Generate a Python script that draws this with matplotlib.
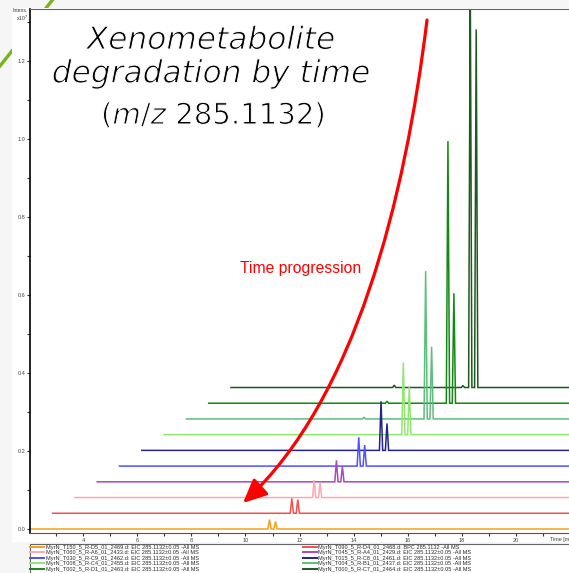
import matplotlib
matplotlib.use("Agg")
import matplotlib.pyplot as plt
import matplotlib.patheffects as pe
from matplotlib.lines import Line2D
from matplotlib.patches import Rectangle, FancyArrowPatch, ArrowStyle
from matplotlib.path import Path
from matplotlib.ticker import MultipleLocator, FormatStrFormatter

W, H = 569, 573

# sample names, bottom trace first
samples = [
    "MyrN_T150_5_R-D5_01_2469.d: EIC 285.1132\u00b10.05 -All MS",
    "MyrN_T090_5_R-D4_01_2468.d: BPC 285.1132 -All MS",
    "MyrN_T060_5_R-A6_01_2433.d: EIC 285.1132\u00b10.05 -All MS",
    "MyrN_T045_5_R-A4_01_2429.d: EIC 285.1132\u00b10.05 -All MS",
    "MyrN_T030_5_R-C9_01_2462.d: EIC 285.1132\u00b10.05 -All MS",
    "MyrN_T015_5_R-C8_01_2461.d: EIC 285.1132\u00b10.05 -All MS",
    "MyrN_T008_5_R-C4_01_2455.d: EIC 285.1132\u00b10.05 -All MS",
    "MyrN_T004_5_R-B1_01_2437.d: EIC 285.1132\u00b10.05 -All MS",
    "MyrN_T002_5_R-D1_01_2463.d: EIC 285.1132\u00b10.05 -All MS",
    "MyrN_T000_5_R-C7_01_2464.d: EIC 285.1132\u00b10.05 -All MS",
]
colors = ["#f5a020", "#f25050", "#ffa6b4", "#a848b8", "#5050ff",
          "#24248c", "#8ee870", "#5cbf7a", "#128a12", "#1d5a1d"]

# two isomer peaks (retention time, min) and heights (x10^7)
peak_rt = [10.89, 11.11]
peak1_h = [0.024, 0.038, 0.045, 0.055, 0.074, 0.126, 0.185, 0.379, 0.672, 1.05]
peak2_h = [0.019, 0.035, 0.038, 0.039, 0.054, 0.069, 0.123, 0.185, 0.282, 0.918]
# small extra bumps: trace index -> [(rt, height)]
minor_peaks = {7: [(8.62, 0.004)], 8: [(8.64, 0.005)], 9: [(8.08, 0.006), (10.62, 0.005)]}

t_start, t_end = 2.05, 25.0
peak_w = 0.06
x_shift = 0.824   # stacking offset in time per trace
y_shift = 0.0403  # stacking offset in intensity per trace

xticks = [4, 6, 8, 10, 12, 14, 16, 18, 20]


def fx(px):
    return px / W


def fy(py):
    return 1 - py / H


fig = plt.figure(figsize=(W / 100, H / 100), dpi=100)
fig.patch.set_facecolor("#f6f6f6")

# slide decoration + white chart area
fig.add_artist(Line2D([fx(0), fx(54)], [fy(66), fy(-2)], color="#78b41e", lw=2.4,
                      transform=fig.transFigure, zorder=-3))
fig.add_artist(Rectangle((fx(12), fy(542)), fx(569 - 12), (542 - 8) / H, facecolor="white",
                         edgecolor="none", transform=fig.transFigure, zorder=-2))
# legend box running off the right edge
fig.add_artist(Rectangle((fx(30), fy(600)), fx(600 - 30), (600 - 544) / H,
                         facecolor="white", edgecolor="#666666", lw=0.8,
                         transform=fig.transFigure, zorder=-1))

ax = fig.add_axes([fx(30), fy(533), fx(600 - 30), (533 - 9) / H])
ax.set_facecolor("white")

for i in range(len(samples) - 1, -1, -1):
    pts = [(t_start, 0.0), (t_end, 0.0)]
    for rt, h in zip(peak_rt, [peak1_h[i], peak2_h[i]]):
        pts += [(rt - peak_w, 0.0), (rt, h), (rt + peak_w, 0.0)]
    for rt, h in minor_peaks.get(i, []):
        pts += [(rt - peak_w, 0.0), (rt, h), (rt + peak_w, 0.0)]
    pts.sort()
    xs = [p[0] + i * x_shift for p in pts]
    ys = [p[1] + i * y_shift for p in pts]
    ax.plot(xs, ys, color=colors[i], lw=1.1, solid_joinstyle="miter")

ax.set_xlim(2.04, 23.1)
ax.set_ylim(-0.0103, 1.333)
ax.set_xticks(xticks)
ax.xaxis.set_minor_locator(MultipleLocator(1))
ax.yaxis.set_major_locator(MultipleLocator(0.2))
ax.yaxis.set_minor_locator(MultipleLocator(0.1))
ax.yaxis.set_major_formatter(FormatStrFormatter("%.1f"))
ax.tick_params(which="both", direction="out", length=2, width=0.8, color="#333333",
               labelsize=4, labelcolor="#444444", pad=1.5)
for lab in ax.get_xticklabels() + ax.get_yticklabels():
    lab.set_family("Liberation Sans")
ax.spines["left"].set_color("black")
ax.spines["left"].set_linewidth(1.2)
ax.spines["bottom"].set_color("#555555")
ax.spines["top"].set_color("#666666")
ax.spines["right"].set_visible(False)

fig.text(fx(550), fy(540), "Time [min]", fontsize=4, color="#444444",
         family="Liberation Sans", va="center", ha="left")
fig.text(fx(28), fy(11), "Intens.", fontsize=3.6, color="#333333",
         family="Liberation Sans", ha="right", va="center")
fig.text(fx(28), fy(18), "x10$^7$", fontsize=3.6, color="#333333",
         family="Liberation Sans", ha="right", va="center")

# legend entries filled column-wise
order = [0, 2, 4, 6, 8, 1, 3, 5, 7, 9]
handles = [Line2D([], [], color=colors[k], lw=1.4) for k in order]
leg = ax.legend(handles, [samples[k] for k in order], ncol=2, loc="upper left",
                bbox_to_anchor=(fx(29), fy(543.5)), bbox_transform=fig.transFigure,
                prop={"family": "Liberation Sans", "size": 4.1}, frameon=False,
                borderpad=0.25, labelspacing=0.08, handlelength=2.4, handletextpad=0.25,
                columnspacing=18.3, borderaxespad=0)
for t in leg.get_texts():
    t.set_color("#2a2a2a")

# title (white outline thins the glyphs a little)
thin = [pe.Stroke(linewidth=0.7, foreground="white")]
fig.text(fx(211), fy(26), "Xenometabolite\ndegradation by time", fontsize=22.5,
         family="DejaVu Sans", style="italic", ha="center", va="top",
         linespacing=1.2, color="#000000", path_effects=thin)
fig.text(fx(213), fy(101), "($\\mathit{m/z}$ 285.1132)", fontsize=21,
         family="DejaVu Sans", ha="center", va="top", color="#000000",
         path_effects=thin)

# red arrow
arrow_px = [(427, 20), (405, 200), (355, 400), (243, 503)]
arrow_path = Path([(fx(x), fy(y)) for x, y in arrow_px],
                  [Path.MOVETO, Path.CURVE4, Path.CURVE4, Path.CURVE4])
fig.add_artist(FancyArrowPatch(path=arrow_path, transform=fig.transFigure,
                               arrowstyle=ArrowStyle("-|>", head_length=1.3, head_width=0.6),
                               mutation_scale=11, color="#ff0000", lw=2.3, zorder=5))
fig.text(fx(301), fy(268), "Time progression", fontsize=11.3, color="#ff0000",
         family="Liberation Sans", ha="center", va="center")

fig.savefig("out.png", dpi=100, facecolor=fig.get_facecolor())
